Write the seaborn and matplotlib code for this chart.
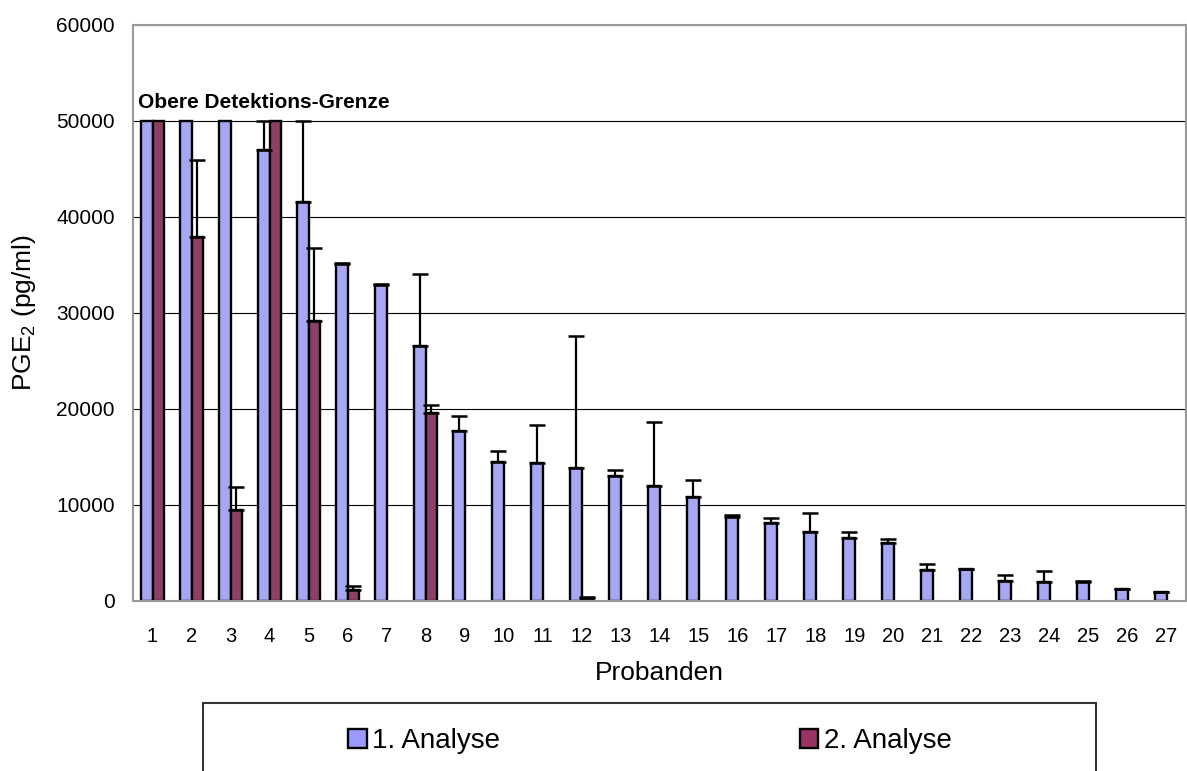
import matplotlib
matplotlib.use('Agg')
import matplotlib.pyplot as plt
from matplotlib.patches import Rectangle, Patch
import seaborn as sns
import pandas as pd
import numpy as np

# Werte
probanden = [str(i) for i in range(1, 28)]
analyse_1 = [50000, 50000, 50000, 47000, 41600, 35100, 32900, 26600, 17700, 14500,
             14400, 13900, 13000, 12000, 10800, 8700, 8100, 7200, 6550, 6000,
             3200, 3300, 2100, 2000, 2000, 1200, 900]
fehler_1 = [0, 0, 0, 3000, 8400, 150, 100, 7500, 1600, 1150,
            3950, 13750, 600, 6600, 1850, 300, 500, 1950, 600, 450,
            650, 50, 600, 1100, 80, 70, 70]
analyse_2 = [50000, 37900, 9450, 50000, 29200, 1150, np.nan, 19600, np.nan, np.nan,
             np.nan, 300, np.nan, np.nan, np.nan, np.nan, np.nan, np.nan, np.nan, np.nan,
             np.nan, np.nan, np.nan, np.nan, np.nan, np.nan, np.nan]
fehler_2 = [0, 8000, 2450, 0, 7600, 400, 0, 850, 0, 0,
            0, 150, 0, 0, 0, 0, 0, 0, 0, 0,
            0, 0, 0, 0, 0, 0, 0]
serien = ['1. Analyse', '2. Analyse']
farben = ['#9999FF', '#993366']

df = pd.concat([
    pd.DataFrame({'Proband': probanden, 'PGE2': analyse_1, 'err': fehler_1, 'Analyse': serien[0]}),
    pd.DataFrame({'Proband': probanden, 'PGE2': analyse_2, 'err': fehler_2, 'Analyse': serien[1]}),
]).dropna(subset=['PGE2'])

sns.set_style('white')
plt.rcParams['font.family'] = ['Liberation Sans', 'DejaVu Sans']
plt.rcParams['mathtext.fontset'] = 'custom'
plt.rcParams['mathtext.rm'] = 'Liberation Sans'
for k in ['text.color', 'axes.labelcolor', 'xtick.labelcolor', 'ytick.labelcolor']:
    plt.rcParams[k] = 'black'

fig = plt.figure(figsize=(11.87, 7.71), dpi=100)
ax = fig.add_axes([133 / 1187, 1 - 601 / 771, (1186 - 133) / 1187, (601 - 25) / 771])

sns.barplot(data=df, x='Proband', y='PGE2', hue='Analyse', order=probanden,
            hue_order=serien, palette=farben, width=0.6, edgecolor='black',
            linewidth=1.7, errorbar=None, legend=False, ax=ax)

# nur positive Fehlerbalken
fehler = {serien[0]: fehler_1, serien[1]: fehler_2}
for serie, cont in zip(serien, ax.containers):
    for bar in cont:
        h = bar.get_height()
        if np.isnan(h):
            continue
        xc = bar.get_x() + bar.get_width() / 2
        e = fehler[serie][int(round(xc))]
        if e > 0:
            ax.errorbar(xc, h, yerr=[[0], [e]], fmt='none', ecolor='black',
                        elinewidth=1.6, capsize=5.5, capthick=1.8, zorder=3)

ax.set_xlim(-0.5, 26.5)
ax.set_ylim(0, 60000)
ax.set_yticks(np.arange(0, 60001, 10000))
ax.yaxis.grid(True, color='black', linewidth=0.8)
ax.set_axisbelow(True)
for s in ax.spines.values():
    s.set_color('#999999')
    s.set_linewidth(1.5)

ax.set_xticks(np.arange(-0.5, 27, 1), minor=True)
ax.tick_params(axis='x', which='major', length=0, pad=19, labelsize=14.5)
ax.tick_params(axis='x', which='minor', length=5, width=1, color='#808080', direction='out')
ax.tick_params(axis='y', length=6, width=1, color='#808080', direction='out', pad=7, labelsize=15)

ax.set_xlabel('Probanden', fontsize=19)
ax.set_ylabel(r'PGE$_\mathregular{2}$ (pg/ml)', fontsize=19)
ax.xaxis.set_label_coords(0.5, -0.104)
ax.yaxis.set_label_coords(-0.09, 0.5)

ax.text(-0.37, 51350, 'Obere Detektions-Grenze', fontsize=15, fontweight='bold',
        va='baseline', color='black')

# Legende mit Rahmen
fig.add_artist(Rectangle((203 / 1187, -0.05), (1096 - 203) / 1187, 0.05 + (771 - 703) / 771,
                         transform=fig.transFigure, fill=False, edgecolor='#333333', linewidth=1.5))
handles = [Patch(facecolor=c, edgecolor='black', linewidth=1.7) for c in farben]
fig.legend(handles, serien, loc='center', bbox_to_anchor=(650 / 1187, 1 - 741 / 771),
           ncol=2, frameon=False, fontsize=20, handlelength=0.65, handleheight=0.65,
           handletextpad=0.2, columnspacing=10.8, borderpad=0)

fig.savefig('out.png', dpi=100)
